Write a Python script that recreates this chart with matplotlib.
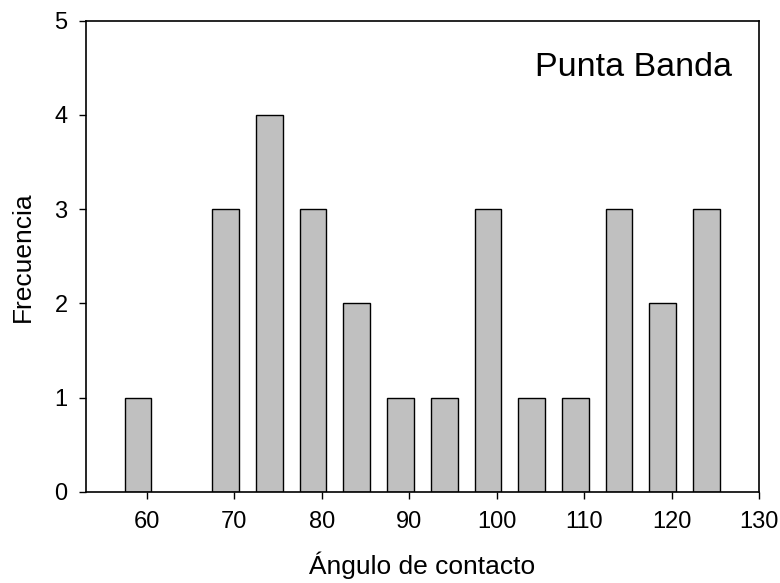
import matplotlib.pyplot as plt

# Histograma de ángulos de contacto - Punta Banda
angulos = [59, 69, 74, 79, 84, 89, 94, 99, 104, 109, 114, 119, 124]
frecuencia = [1, 3, 4, 3, 2, 1, 1, 3, 1, 1, 3, 2, 3]
ticks_x = [60, 70, 80, 90, 100, 110, 120, 130]
ticks_y = [0, 1, 2, 3, 4, 5]

plt.rcParams.update({
    "font.family": ["Liberation Sans", "DejaVu Sans"],
})

fig = plt.figure(figsize=(7.8, 5.83), dpi=100)
ax = fig.add_axes([85.7 / 780, 1 - 492 / 583, (759 - 85.7) / 780, (492 - 20.7) / 583])

ax.bar(angulos, frecuencia, width=3.05, color="#C0C0C0",
       edgecolor="black", linewidth=1.0)

ax.set_xlim(53, 130)
ax.set_ylim(0, 5)
ax.set_xticks(ticks_x)
ax.set_yticks(ticks_y)
ax.tick_params(direction="out", length=5, width=1, labelsize=17)
ax.tick_params(axis="x", pad=9)
ax.tick_params(axis="y", pad=8)
for s in ax.spines.values():
    s.set_linewidth(1.2)

ax.set_xlabel("Ángulo de contacto", fontsize=19, labelpad=13)
ax.set_ylabel("Frecuencia", fontsize=19, labelpad=14)
ax.text(0.96, 0.9, "Punta Banda", transform=ax.transAxes,
        fontsize=24.5, ha="right", va="center")

fig.savefig("out.png", dpi=100)
